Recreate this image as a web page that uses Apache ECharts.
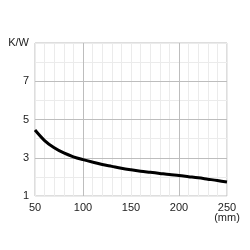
<!DOCTYPE html>
<html>
<head>
<meta charset="utf-8">
<script src="https://cdn.jsdelivr.net/npm/echarts@6/dist/echarts.min.js"></script>
<style>html,body{margin:0;padding:0;background:#fff}#c{width:250px;height:250px}</style>
</head>
<body>
<div id="c"></div>
<script>
const lengthsMm = [50,60,70,80,90,100,110,120,130,140,150,160,170,180,190,200,210,220,230,240,250];
const resistanceKW = [4.45,3.9,3.52,3.25,3.05,2.9,2.77,2.65,2.55,2.45,2.37,2.3,2.24,2.18,2.12,2.07,2.01,1.95,1.88,1.81,1.73];
const xLabelValues = [50,100,150,200,250];
const yLabelValues = [1,3,5,7];
const yUnitLabel = 'K/W';
const xUnitLabel = '(mm)';
const majorX = [100,200];
const majorY = [3,5,7];

const chart = echarts.init(document.getElementById('c'), null, {renderer:'canvas'});
const txt = '#222';
const font = 'Liberation Sans, Arial, sans-serif';
chart.setOption({
  animation:false,
  grid:{left:35,right:23,top:43,bottom:54,show:true,borderColor:'#bdbdbd',borderWidth:1},
  xAxis:{type:'value',min:50,max:250,interval:10,
    axisLine:{show:false},axisTick:{show:false},
    splitLine:{show:true,lineStyle:{color:'#ebebeb',width:1}},
    axisLabel:{margin:7,color:txt,fontSize:11,fontFamily:font,lineHeight:10,
      formatter:v=>{ if(!xLabelValues.includes(v)) return ''; return v===250? v+'\n'+xUnitLabel : String(v);} }
  },
  yAxis:{type:'value',min:1,max:9,interval:1,
    axisLine:{show:false},axisTick:{show:false},
    splitLine:{show:true,lineStyle:{color:'#ebebeb',width:1}},
    axisLabel:{margin:6,color:txt,fontSize:11,fontFamily:font,
      formatter:v=>{ if(v===9) return yUnitLabel; return yLabelValues.includes(v)? String(v):''; } }
  },
  series:[
    {type:'line',data:[],z:1,silent:true,
      markLine:{silent:true,symbol:'none',label:{show:false},animation:false,
        lineStyle:{color:'#bdbdbd',width:1,type:'solid'},
        data:[...majorX.map(v=>({xAxis:v})),...majorY.map(v=>({yAxis:v}))]}},
    {type:'line',z:5,smooth:0.35,showSymbol:false,
      data:lengthsMm.map((x,i)=>[x,resistanceKW[i]]),
      lineStyle:{color:'#000',width:3}}
  ]
});
</script>
</body>
</html>
